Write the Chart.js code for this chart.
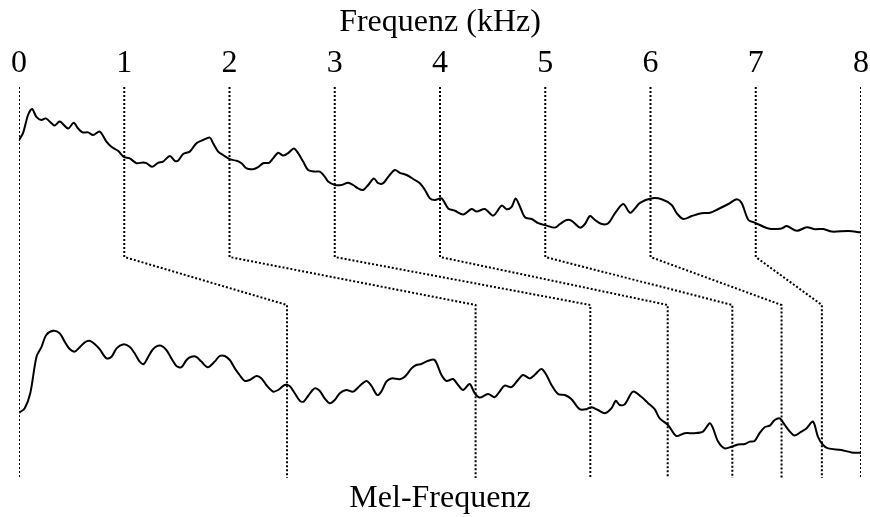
<!DOCTYPE html>
<html>
<head>
<meta charset="utf-8">
<script src="https://cdn.jsdelivr.net/npm/chart.js@4/dist/chart.umd.min.js"></script>
<style>
  html, body { margin: 0; padding: 0; background: #fff; }
  #wrap { width: 870px; height: 517px; }
</style>
</head>
<body>
<div id="wrap"><canvas id="chart"></canvas></div>
<script>
// Frequenzachse (kHz) und die zugehoerigen Positionen auf der Mel-Achse
const kHzTicks = [0, 1, 2, 3, 4, 5, 6, 7, 8];
const melTicks = [0, 904, 1540, 1927, 2188, 2406, 2572, 2708, 2840];
const melMax = 2840;

// Spektrum ueber linearer Frequenz: [kHz, Pegel]
const spectrumHz = [
	[0, 84.5], [0.038, 86.2], [0.086, 90.75], [0.124, 92.25], [0.165, 90.3], [0.213, 89.5],
	[0.254, 89.9], [0.308, 88.7], [0.339, 88.1], [0.387, 89.1], [0.466, 87.4], [0.520, 88.8],
	[0.561, 87.4], [0.603, 86.4], [0.656, 86.4], [0.703, 85.75], [0.767, 86.6], [0.831, 84.1],
	[0.878, 82.8], [0.941, 81.8], [0.995, 80.3], [1.052, 79.9], [1.116, 78.7], [1.179, 78.9],
	[1.211, 78.7], [1.264, 77.8], [1.321, 78.8], [1.369, 79.1], [1.433, 80.5], [1.480, 79.3],
	[1.511, 79.3], [1.559, 81], [1.623, 81.6], [1.686, 83.7], [1.749, 84.5], [1.813, 85.1],
	[1.844, 83.7], [1.892, 81.6], [1.939, 80.75], [2.003, 79.7], [2.067, 79.3], [2.114, 78.7],
	[2.162, 77.4], [2.224, 77.2], [2.272, 77.7], [2.319, 78.7], [2.376, 78.8], [2.414, 79.9],
	[2.462, 81.3], [2.510, 80.6], [2.557, 81.2], [2.611, 82.4], [2.652, 81.2], [2.700, 79.1],
	[2.747, 77], [2.811, 76.6], [2.858, 76.6], [2.906, 75.3], [2.937, 74.1], [3.001, 73.25],
	[3.065, 73.25], [3.127, 73.8], [3.175, 73.25], [3.222, 72.4], [3.270, 72], [3.318, 73.25],
	[3.372, 74.9], [3.413, 73.7], [3.460, 73.7], [3.508, 75.3], [3.571, 77], [3.619, 76.3],
	[3.683, 75.75], [3.761, 74.5], [3.809, 73.7], [3.857, 72], [3.904, 69.9], [3.952, 69.5],
	[4.015, 69.9], [4.078, 67.4], [4.142, 66.8], [4.221, 65.9], [4.300, 67.25], [4.348, 66.6],
	[4.427, 67.25], [4.506, 65.6], [4.586, 68.1], [4.633, 67.2], [4.681, 67.8], [4.719, 69.9],
	[4.760, 67.8], [4.807, 65.2], [4.871, 64.75], [4.934, 63.7], [5.013, 63.1], [5.092, 62.6],
	[5.140, 63.5], [5.203, 64.5], [5.251, 64.3], [5.330, 62.6], [5.377, 63.5], [5.425, 65.5],
	[5.472, 64.5], [5.536, 63.5], [5.599, 63.7], [5.663, 66.2], [5.741, 68.5], [5.805, 66.3],
	[5.853, 67.4], [5.900, 68.8], [6.005, 69.9], [6.106, 69.7], [6.201, 68.25], [6.249, 66.2],
	[6.312, 64.75], [6.392, 65.5], [6.487, 66.2], [6.566, 66.3], [6.645, 67.25], [6.740, 68.5],
	[6.820, 69.7], [6.867, 68.7], [6.930, 64.5], [6.994, 63.8], [7.120, 62.4], [7.247, 62.4],
	[7.295, 63], [7.390, 61.8], [7.485, 62.7], [7.564, 62.2], [7.643, 62.25], [7.723, 61.6],
	[7.880, 61.75], [8.000, 61.4]
];

// dasselbe Spektrum ueber der Mel-Frequenz: [mel, Pegel]
const spectrumMel = [
	[0, 16.3], [19, 17.4], [38, 21.2], [59, 30.3], [76, 32.8], [92, 35.75], [115, 36.8],
	[137, 36.2], [154, 34.1], [171, 32.25], [188, 31.6], [205, 32.7], [222, 33.9], [238, 34.3],
	[255, 33.5], [272, 32.2], [295, 29.9], [312, 30.3], [329, 32.4], [351, 33.4], [373, 32.8],
	[390, 31.2], [407, 29.1], [421, 28.5], [435, 30.2], [452, 32.2], [475, 33.1], [497, 32],
	[514, 29.9], [531, 28], [548, 27.7], [565, 29.5], [581, 30.3], [598, 30.3], [615, 29.1],
	[637, 27.7], [660, 29.1], [677, 30.5], [694, 30.5], [711, 29.5], [728, 27.4], [744, 25.75],
	[761, 24.3], [778, 24.5], [801, 25.5], [818, 24.9], [834, 23.25], [857, 21.6], [874, 22],
	[896, 23.25], [913, 23], [930, 21.2], [947, 19.3], [960, 19.1], [975, 20.5], [997, 22.4],
	[1014, 21.8], [1031, 19.9], [1048, 18.7], [1065, 19.5], [1082, 21.2], [1104, 22],
	[1127, 21.6], [1149, 23], [1172, 24.25], [1189, 23], [1208, 20.75], [1222, 21.6],
	[1239, 24.1], [1256, 24.9], [1284, 24.7], [1301, 25.3], [1324, 27.4], [1340, 28.25],
	[1357, 28.5], [1380, 29.3], [1402, 29.5], [1425, 25.75], [1442, 24.25], [1464, 24.75],
	[1481, 23.25], [1498, 22], [1520, 23.5], [1537, 21.2], [1554, 20.1], [1582, 21],
	[1604, 20.2], [1621, 21.6], [1638, 23.1], [1661, 22.7], [1683, 24.5], [1700, 25.75],
	[1723, 24.9], [1739, 25.75], [1762, 27.25], [1779, 25.75], [1796, 23.25], [1818, 21],
	[1841, 20.75], [1863, 19.75], [1891, 17.2], [1914, 17.2], [1931, 17.7], [1953, 17],
	[1976, 16.2], [1998, 17.4], [2013, 19.3], [2026, 18.25], [2043, 18.4], [2071, 21.6],
	[2099, 20.3], [2122, 18.7], [2144, 17.2], [2161, 14.9], [2189, 13.25], [2217, 10.5],
	[2245, 11.2], [2279, 11.2], [2307, 11.6], [2330, 13.7], [2341, 12.4], [2358, 9.1],
	[2380, 7.4], [2403, 7.8], [2425, 8.4], [2448, 8.5], [2465, 9.1], [2481, 9.25],
	[2498, 11.2], [2515, 12.7], [2532, 13.1], [2549, 14.5], [2566, 14.9], [2583, 13.25],
	[2600, 11.6], [2616, 10.6], [2639, 11.6], [2656, 12.4], [2678, 14.1], [2695, 10.3],
	[2712, 8.25], [2729, 7.4], [2774, 7], [2808, 6.4], [2840, 6.3]
];

const yMax = 97.75;
const kneeTop = 55.25;
const kneeBottom = 43.25;
const serif = "'Liberation Serif', 'Times New Roman', serif";

const toPoints = (arr) => arr.map(([x, y]) => ({ x, y }));

// gepunktete Verbindungslinien kHz -> Mel
const connectors = kHzTicks.map((k, i) => {
	const m = melTicks[i] / melMax * 8;
	return {
		data: [
			{ x: k, y: yMax },
			{ x: k, y: kneeTop },
			{ x: m, y: kneeBottom },
			{ x: m, y: 0 },
		],
		xAxisID: 'x',
		borderColor: '#000',
		borderWidth: 2,
		borderDash: [2, 2],
		pointRadius: 0,
		tension: 0,
	};
});

// Achsen ohne Zusatzabstand links/rechts, damit die Flaeche exakt sitzt
const fixBox = (h) => (s) => {
	s.height = h;
	s.paddingLeft = 0;
	s.paddingRight = 0;
};

new Chart(document.getElementById('chart'), {
	type: 'line',
	data: {
		datasets: [
			...connectors,
			{
				data: toPoints(spectrumHz),
				xAxisID: 'x',
				borderColor: '#000',
				borderWidth: 2,
				pointRadius: 0,
				tension: 0.3,
			},
			{
				data: toPoints(spectrumMel),
				xAxisID: 'xMel',
				borderColor: '#000',
				borderWidth: 2,
				pointRadius: 0,
				tension: 0.3,
			},
		],
	},
	options: {
		responsive: true,
		maintainAspectRatio: false,
		animation: false,
		layout: { padding: { left: 19, right: 9, top: 0, bottom: 0 } },
		plugins: { legend: { display: false }, tooltip: { enabled: false } },
		scales: {
			x: {
				type: 'linear',
				position: 'top',
				min: 0,
				max: 8,
				grid: { display: false, drawTicks: false },
				border: { display: false },
				ticks: {
					stepSize: 1,
					autoSkip: false,
					maxRotation: 0,
					padding: 4,
					color: '#000',
					font: { family: serif, size: 32 },
				},
				title: {
					display: true,
					text: 'Frequenz (kHz)',
					color: '#000',
					font: { family: serif, size: 32 },
					padding: { top: 3, bottom: 0 },
				},
				afterFit: fixBox(87),
			},
			xMel: {
				type: 'linear',
				position: 'bottom',
				min: 0,
				max: melMax,
				grid: { display: false, drawTicks: false },
				border: { display: false },
				ticks: { display: false },
				title: {
					display: true,
					text: 'Mel-Frequenz',
					color: '#000',
					font: { family: serif, size: 32, lineHeight: 1 },
					padding: { top: 0, bottom: 2 },
				},
				afterFit: fixBox(39),
			},
			y: {
				display: false,
				min: 0,
				max: yMax,
			},
		},
	},
});
</script>
</body>
</html>
